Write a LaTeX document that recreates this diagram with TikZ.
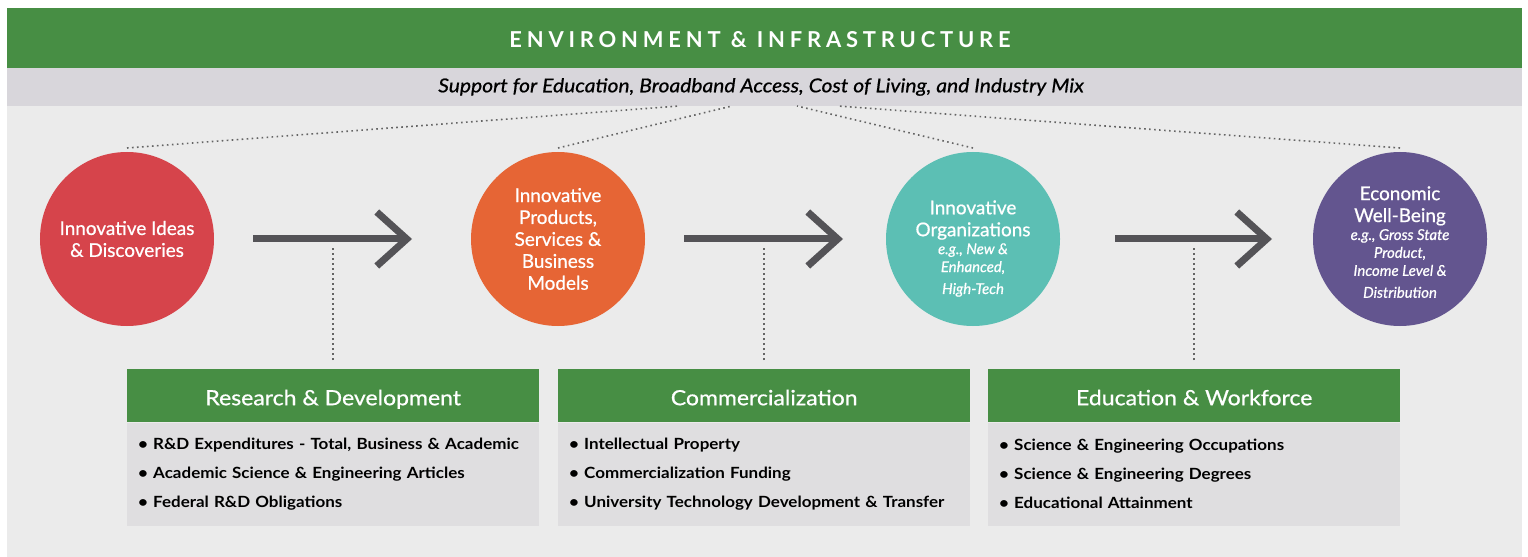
\documentclass[tikz,border=0pt]{standalone}
\usepackage{fontspec}
\setmainfont{Lato}[FakeStretch=1.1]
\newfontfamily\spacedfont[LetterSpace=22]{Lato}
\newfontfamily\mediumfont[FakeBold=0.7,FakeStretch=1.1]{Lato}
\newfontfamily\stagefont[FakeBold=0.7]{Lato}
\usetikzlibrary{arrows.meta}
\definecolor{envgreen}{RGB}{71,142,68}
\definecolor{bandgray}{RGB}{216,214,219}
\definecolor{backgray}{RGB}{235,235,235}
\definecolor{listgray}{RGB}{223,222,224}
\definecolor{ideared}{RGB}{214,68,75}
\definecolor{prodorange}{RGB}{230,101,53}
\definecolor{orgteal}{RGB}{92,191,180}
\definecolor{wellpurple}{RGB}{99,85,143}
\definecolor{arrowgray}{RGB}{84,83,87}
\definecolor{dotgray}{RGB}{100,100,100}

\begin{document}
\begin{tikzpicture}[x=1bp,y=-1bp,
    stage/.style={circle,minimum size=174bp,inner sep=-10bp,outer sep=4bp,text=white,
      align=flush center,text width=150bp,font=\stagefont\fontsize{19}{22}\selectfont},
    flow/.style={arrowgray,line width=7bp,-{Straight Barb[length=30bp,width=54bp]}},
    dots/.style={dotgray,line width=1.6bp,dash pattern=on 1.6bp off 3.4bp},
    head/.style={fill=envgreen,text=white,minimum width=412bp,minimum height=53bp,
      inner sep=0pt,text height=19bp,text depth=0bp,anchor=north west,
      font=\mediumfont\fontsize{21}{24}\selectfont},
    list/.style={fill=listgray,minimum height=103bp,text width=390bp,inner xsep=11bp,
      inner ysep=0pt,align=left,anchor=north west,font=\bfseries\fontsize{15.5}{29}\selectfont}]
    \useasboundingbox (0,0) rectangle (1528,557);
    % Background
    \fill[backgray] (7,8) rectangle (1522,557);
    \fill[envgreen] (7,8) rectangle (1522,68);
    \fill[bandgray] (7,68) rectangle (1522,106);
    \node[text=white,font=\spacedfont\bfseries\fontsize{22}{24}\selectfont] (title) at (760,40)
      {ENVIRONMENT \& INFRASTRUCTURE};
    \node[font=\mediumfont\itshape\fontsize{19.2}{20}\selectfont] (support) at (761,87)
      {Support for Education, Broadband Access, Cost of Living, and Industry Mix};
    % Stages
    \node[stage,fill=ideared] (ideas) at (127,239) {Innovative Ideas\\\& Discoveries};
    \node[stage,fill=prodorange] (products) at (558,239) {Innovative\\Products,\\Services \&\\Business\\Models};
    \node[stage,fill=orgteal,text width=140bp] (orgs) at (973,239) {\rule{0pt}{33bp}Innovative\\Organizations\par
      \fontsize{15}{18}\selectfont\itshape e.g., New \&\\Enhanced,\\High-Tech};
    \node[stage,fill=wellpurple,text width=140bp] (wellbeing) at (1400,239) {\rule{0pt}{20bp}Economic\\Well-Being\par
      \fontsize{15}{18}\selectfont\itshape e.g., Gross State\\Product,\\Income Level \&\\Distribution};
    % Links to the band
    \foreach \s/\x in {ideas/679,products/732,orgs/797,wellbeing/838} {
      \coordinate (\s-top) at (\x,106);
      \draw[dots] (\s.north) -- (\s-top);
    }
    % Arrows
    \draw[flow,shorten <=35bp,shorten >=55bp] (ideas.east) -- (products.west);
    \draw[flow,shorten <=35bp,shorten >=39bp] (products.east) -- (orgs.west);
    \draw[flow,shorten <=51bp,shorten >=37bp] (orgs.east) -- (wellbeing.west);
    % Drivers
    \node[head] (rdhead) at (127,369) {Research \& Development};
    \node[list] (rdlist) at (rdhead.south west) {\textbullet\ R\&D Expenditures - Total, Business \& Academic\\
      \textbullet\ Academic Science \& Engineering Articles\\
      \textbullet\ Federal R\&D Obligations};
    \node[head] (comhead) at (558,369) {Commercialization};
    \node[list] (comlist) at (comhead.south west) {\textbullet\ Intellectual Property\\
      \textbullet\ Commercialization Funding\\
      \textbullet\ University Technology Development \& Transfer};
    \node[head] (eduhead) at (988,369) {Education \& Workforce};
    \node[list] (edulist) at (eduhead.south west) {\textbullet\ Science \& Engineering Occupations\\
      \textbullet\ Science \& Engineering Degrees\\
      \textbullet\ Educational Attainment};
    \foreach \h in {rdhead,comhead,eduhead}
      \draw[dots] ([yshift=9bp]\h.north) -- ++(0,-113);
\end{tikzpicture}
\end{document}
